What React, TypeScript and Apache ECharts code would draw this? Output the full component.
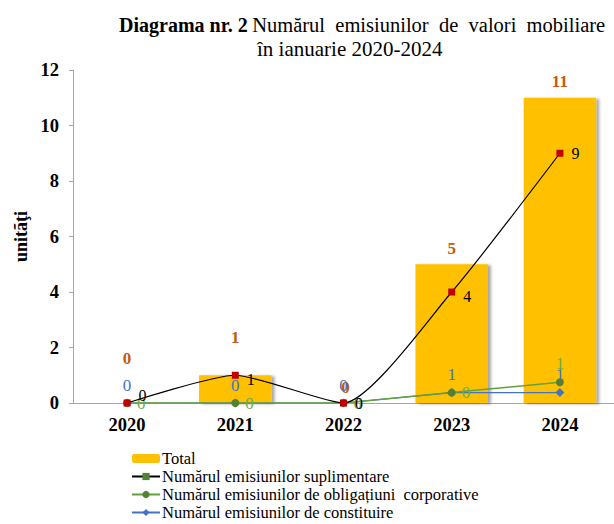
import React, { useEffect, useRef } from "react";
import * as echarts from "echarts";

const years = ["2020", "2021", "2022", "2023", "2024"];
const totalValues = [0, 1, 0, 5, 11];
const suplimentareValues = [0, 1, 0, 4, 9];
const obligatiuniValues = [0, 0, 0, 0, 1];
const constituireValues = [0, 0, 0, 1, 1];
const yTicks = [0, 2, 4, 6, 8, 10, 12];

const seriesNames = [
  "Total",
  "Numărul emisiunilor suplimentare",
  "Numărul emisiunilor de obligațiuni  corporative",
  "Numărul emisiunilor de constituire",
];

// label placement (styling only)
const totalLabelOffsets = [-31, -24, -2, -2, -3];
const suplLabelOffsets = [[0, -8], [0, 4], [0, 0], [0, 4], [0, 0]];
const obligLabelPositions = ["right", "right", "right", "right", "top"];

const SERIF = "'Liberation Serif', 'Times New Roman', serif";

export default function App() {
  const ref = useRef<HTMLDivElement>(null);
  useEffect(() => {
    if (!ref.current) return;
    const chart = echarts.init(ref.current, undefined, { renderer: "svg" });
    chart.setOption({
      animation: false,
      textStyle: { fontFamily: SERIF },
      title: [
        {
          left: 114,
          top: 9,
          text: "{b|Diagrama nr. 2} {r|Numărul  emisiunilor  de  valori  mobiliare}",
          textStyle: {
            rich: {
              b: { fontFamily: SERIF, fontWeight: "bold", fontSize: 20, color: "#000" },
              r: { fontFamily: SERIF, fontWeight: "normal", fontSize: 20.5, color: "#000" },
            },
          },
        },
        {
          left: 252,
          top: 33,
          text: "în ianuarie 2020-2024",
          textStyle: { fontFamily: SERIF, fontWeight: "normal", fontSize: 21, color: "#000" },
        },
      ],
      legend: {
        orient: "vertical",
        left: 131,
        top: 450,
        height: 90,
        itemGap: 1,
        itemWidth: 28,
        itemHeight: 9,
        padding: 0,
        textStyle: {
          fontFamily: SERIF,
          fontSize: 16.5,
          color: "#000",
          padding: [0, 0, 0, -3],
        },
        data: [
          { name: seriesNames[0] },
          { name: seriesNames[1], itemStyle: { color: "#548235" } },
          { name: seriesNames[2] },
          { name: seriesNames[3] },
        ],
      },
      grid: { left: 73, right: -7, top: 70, bottom: 121 },
      xAxis: {
        type: "category",
        data: years,
        axisLine: { lineStyle: { color: "#a6a6a6" } },
        axisTick: { show: false },
        axisLabel: {
          fontFamily: SERIF,
          fontWeight: "bold",
          fontSize: 18.5,
          color: "#000",
          margin: 12,
        },
      },
      yAxis: [
        {
          type: "value",
          min: 0,
          max: 12,
          interval: 2,
          name: "unitãţi",
          nameLocation: "middle",
          nameGap: 39,
          nameTextStyle: { fontFamily: SERIF, fontWeight: "bold", fontSize: 18, color: "#000" },
          axisLine: { show: true, lineStyle: { color: "#a6a6a6" } },
          axisTick: { show: true, length: 4, lineStyle: { color: "#a6a6a6" } },
          splitLine: { show: false },
          axisLabel: {
            fontFamily: SERIF,
            fontWeight: "bold",
            fontSize: 18.5,
            color: "#000",
            margin: 14,
            formatter: (v: number) => (yTicks.includes(v) ? String(v) : ""),
          },
        },
        {
          type: "value",
          min: 0,
          max: 32,
          show: false,
          splitLine: { show: false },
        },
      ],
      series: [
        {
          name: seriesNames[0],
          type: "bar",
          barCategoryGap: "33%",
          itemStyle: {
            color: "#FFC000",
            shadowColor: "rgba(0,0,0,0.35)",
            shadowOffsetX: 3,
            shadowOffsetY: 1,
            shadowBlur: 3,
          },
          data: totalValues.map((v, i) => ({
            value: v,
            label: { offset: [i === 2 ? 2 : 0, totalLabelOffsets[i]] },
          })),
          label: {
            show: true,
            position: "top",
            distance: 5,
            fontFamily: SERIF,
            fontWeight: "bold",
            fontSize: 17,
            color: "#C55A11",
          },
          z: 1,
        },
        {
          name: seriesNames[1],
          type: "line",
          data: suplimentareValues.map((v, i) => ({
            value: v,
            label: { offset: suplLabelOffsets[i] },
          })),
          smooth: 0.2,
          symbol: "rect",
          symbolSize: 7,
          lineStyle: { color: "#000", width: 1.2 },
          itemStyle: { color: "#C00000" },
          label: {
            show: true,
            position: "right",
            distance: 8,
            fontFamily: SERIF,
            fontSize: 16,
            color: "#000",
          },
          z: 4,
        },
        {
          name: seriesNames[3],
          type: "line",
          yAxisIndex: 1,
          stack: "small",
          data: constituireValues,
          symbol: "diamond",
          symbolSize: 9,
          lineStyle: { color: "#4472C4", width: 1.2 },
          itemStyle: { color: "#4472C4" },
          label: {
            show: true,
            position: "top",
            distance: 5,
            fontFamily: SERIF,
            fontSize: 17,
            color: "#4472C4",
          },
          z: 3,
        },
        {
          name: seriesNames[2],
          type: "line",
          yAxisIndex: 1,
          stack: "small",
          data: obligatiuniValues.map((v, i) => ({
            value: v,
            label: { position: obligLabelPositions[i] },
          })),
          symbol: "circle",
          symbolSize: 8,
          lineStyle: { color: "#62A03F", width: 1.5 },
          itemStyle: { color: "#548235" },
          label: {
            show: true,
            position: "right",
            distance: 6,
            fontFamily: SERIF,
            fontSize: 17,
            color: "#70AD47",
          },
          z: 3,
        },
      ],
    });
    return () => chart.dispose();
  }, []);
  return (
    <div
      ref={ref}
      style={{ position: "absolute", left: 0, top: 0, width: 614, height: 524, background: "#fff" }}
    />
  );
}
